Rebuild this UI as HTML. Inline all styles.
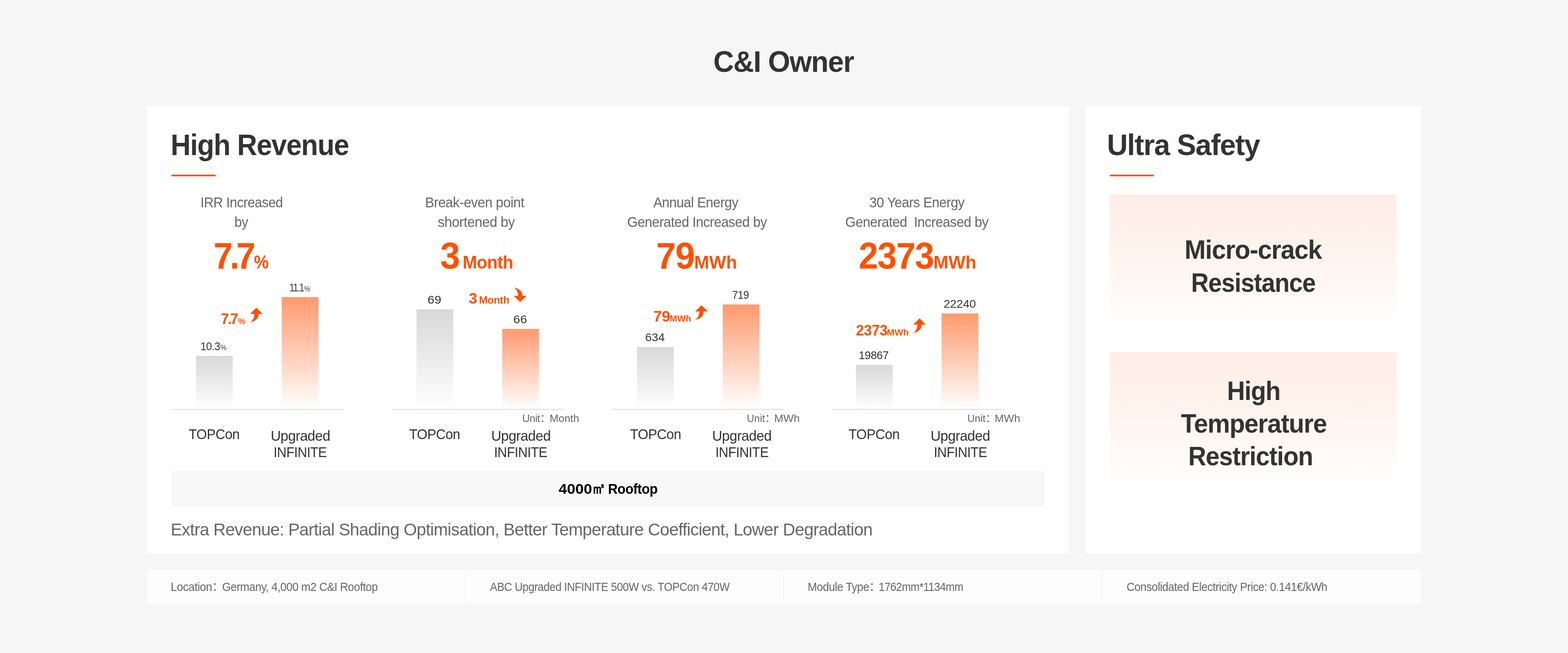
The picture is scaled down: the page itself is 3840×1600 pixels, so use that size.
<!DOCTYPE html>
<html lang="en">
<head>
<meta charset="utf-8">
<title>C&amp;I Owner</title>
<style>
html,body{margin:0;padding:0;}
body{width:3840px;height:1600px;overflow:hidden;background:#f6f6f6;font-family:"Liberation Sans","Noto Sans CJK SC",sans-serif;position:relative;}
.page{position:absolute;left:0;top:0;width:3840px;height:1600px;overflow:hidden;}
.card{position:absolute;top:260px;height:1096px;background:#fff;}
.card.left{left:360px;width:2258px;}
.card.right{left:2658px;width:822px;}
.rule{position:absolute;left:60px;top:168px;width:108px;height:4px;background:#ff5000;}
.t{position:absolute;white-space:pre;transform-origin:0 0;display:block;}
h1,h2,h3,p,div,section,footer{margin:0;padding:0;font-weight:400;}
.bar{position:absolute;width:90px;}
.bar.g{background:linear-gradient(180deg,#d8d8d8 0%,#ffffff 100%);}
.bar.o{background:linear-gradient(180deg,#ff9a6e 0%,#ffffff 100%);}
.axis{position:absolute;top:742px;width:420px;height:2px;background:#dcdcdc;}
.arw{position:absolute;overflow:visible;}
.roofbar{position:absolute;left:60px;top:894px;width:2138px;height:88px;background:#f8f8f8;}
.box{position:absolute;left:60px;width:702px;height:340px;background:linear-gradient(180deg,#ffede6 0%,#fff3ee 40%,#ffffff 100%);}
.foot{position:absolute;left:360px;top:1396px;width:3120px;height:84px;background:#fdfdfd;}
.sep{position:absolute;top:0;width:2px;height:84px;background:#f5f5f5;}
</style>
</head>
<body>
<div class="page">

<h1 style="color:#333333"><span class="t" style="left:1747.32px;top:108px;font-size:72px;line-height:86px;font-weight:700;letter-spacing:-1.44px;transform:scaleX(0.96851);">C&amp;I Owner</span></h1>
<section class="card left">
<h2 style="color:#333333"><span class="t" style="left:57.56px;top:52px;font-size:72px;line-height:86px;font-weight:700;letter-spacing:-1.44px;transform:scaleX(0.94238);">High Revenue</span></h2>
<div class="rule"></div>
<div class="col">
<p style="color:#666666"><span class="t" style="left:131.03px;top:213px;font-size:35px;line-height:45px;letter-spacing:-0.7px;transform:scaleX(0.93839);">IRR Increased</span> <span class="t" style="left:213.96px;top:261px;font-size:35px;line-height:45px;letter-spacing:-0.7px;transform:scaleX(0.93944);">by</span></p>
<p style="color:#ff5000"><span class="t" style="left:162.95px;top:314px;font-size:90px;line-height:106px;font-weight:700;letter-spacing:-8.1px;transform:scaleX(0.94499);">7.7</span><span class="t" style="left:261.91px;top:353px;font-size:46px;line-height:58px;font-weight:700;transform:scaleX(0.88821);">%</span></p>
<div class="bar g" style="left:120px;top:612px;height:130px"></div>
<div class="bar o" style="left:330px;top:468px;height:274px"></div>
<div style="color:#333333"><span class="t" style="left:131.36px;top:570px;font-size:28px;line-height:37px;letter-spacing:-0.56px;transform:scaleX(0.92031);">10.3</span><span class="t" style="left:179.83px;top:579px;font-size:18px;line-height:26px;transform:scaleX(0.93500);">%</span></div>
<div style="color:#333333"><span class="t" style="left:349.06px;top:426px;font-size:28px;line-height:37px;letter-spacing:-1.96px;transform:scaleX(0.77879);">11.1</span><span class="t" style="left:384.67px;top:435px;font-size:18px;line-height:26px;transform:scaleX(0.90750);">%</span></div>
<div style="color:#ff5000"><span class="t" style="left:181.25px;top:498px;font-size:37px;line-height:47px;font-weight:700;letter-spacing:-3.33px;transform:scaleX(0.95290);">7.7</span><span class="t" style="left:223.21px;top:512px;font-size:21px;line-height:29px;font-weight:700;transform:scaleX(0.96579);">%</span></div>
<svg class="arw" width="32" height="36" viewBox="0 0 32 36" style="left:252.3px;top:494px"><path d="M15.9 0 L31.6 15.2 L21.3 15.2 C21.3 26 14 33 0.3 35.6 C7 31 10.8 25 10.8 15.2 L0.3 15.2 Z" fill="#ff5000"/></svg>
<div class="axis" style="left:60px"></div>
<div style="color:#333333"><span class="t" style="left:101.65px;top:781px;font-size:35px;line-height:45px;letter-spacing:-0.7px;transform:scaleX(0.94832);">TOPCon</span></div>
<div style="color:#333333"><span class="t" style="left:302.92px;top:785px;font-size:35px;line-height:45px;letter-spacing:-0.7px;transform:scaleX(0.98123);">Upgraded</span> <span class="t" style="left:310.22px;top:825px;font-size:35px;line-height:45px;letter-spacing:-0.7px;transform:scaleX(0.92742);">INFINITE</span></div>
</div>
<div class="col">
<p style="color:#666666"><span class="t" style="left:681.05px;top:213px;font-size:35px;line-height:45px;letter-spacing:-0.7px;transform:scaleX(0.95706);">Break-even point</span> <span class="t" style="left:711.98px;top:261px;font-size:35px;line-height:45px;letter-spacing:-0.7px;transform:scaleX(0.97181);">shortened by</span></p>
<p style="color:#ff5000"><span class="t" style="left:717.68px;top:314px;font-size:90px;line-height:106px;font-weight:700;transform:scaleX(0.97333);">3</span> <span class="t" style="left:772.86px;top:355px;font-size:44px;line-height:55px;font-weight:700;letter-spacing:-0.88px;transform:scaleX(0.96773);">Month</span></p>
<div class="bar g" style="left:660px;top:498px;height:244px"></div>
<div class="bar o" style="left:870px;top:546px;height:196px"></div>
<div style="color:#333333"><span class="t" style="left:687.1px;top:456px;font-size:28px;line-height:37px;letter-spacing:0.06px;transform:scaleX(1.08000);">69</span></div>
<div style="color:#333333"><span class="t" style="left:897.03px;top:504px;font-size:28px;line-height:37px;letter-spacing:0.09px;transform:scaleX(1.08000);">66</span></div>
<div style="color:#ff5000"><span class="t" style="left:787.69px;top:448px;font-size:37px;line-height:47px;font-weight:700;transform:scaleX(1.01350);">3</span> <span class="t" style="left:813px;top:457px;font-size:26px;line-height:36px;font-weight:700;letter-spacing:-0.52px;transform:scaleX(0.98662);">Month</span></div>
<svg class="arw" width="32" height="36" viewBox="0 0 32 36" style="left:898px;top:444px"><g transform="translate(0 36) scale(1 -1)"><path d="M15.9 0 L31.6 15.2 L21.3 15.2 C21.3 26 14 33 0.3 35.6 C7 31 10.8 25 10.8 15.2 L0.3 15.2 Z" fill="#ff5000"/></g></svg>
<div class="axis" style="left:600px"></div>
<div style="color:#666666"><span class="t" style="left:919.03px;top:747px;font-size:26px;line-height:36px;letter-spacing:-0.52px;transform:scaleX(0.98307);">Unit：</span><span class="t" style="left:985.97px;top:747px;font-size:26px;line-height:36px;transform:scaleX(1.00259);">Month</span></div>
<div style="color:#333333"><span class="t" style="left:641.65px;top:781px;font-size:35px;line-height:45px;letter-spacing:-0.7px;transform:scaleX(0.94832);">TOPCon</span></div>
<div style="color:#333333"><span class="t" style="left:842.92px;top:785px;font-size:35px;line-height:45px;letter-spacing:-0.7px;transform:scaleX(0.98123);">Upgraded</span> <span class="t" style="left:850.22px;top:825px;font-size:35px;line-height:45px;letter-spacing:-0.7px;transform:scaleX(0.92742);">INFINITE</span></div>
</div>
<div class="col">
<p style="color:#666666"><span class="t" style="left:1239.73px;top:213px;font-size:35px;line-height:45px;letter-spacing:-0.7px;transform:scaleX(0.94198);">Annual Energy</span> <span class="t" style="left:1176.24px;top:261px;font-size:35px;line-height:45px;letter-spacing:-0.7px;transform:scaleX(0.94978);">Generated Increased by</span></p>
<p style="color:#ff5000"><span class="t" style="left:1247.29px;top:314px;font-size:90px;line-height:106px;font-weight:700;letter-spacing:-1.8px;transform:scaleX(0.96798);">79</span><span class="t" style="left:1340px;top:355px;font-size:44px;line-height:55px;font-weight:700;transform:scaleX(0.99979);">MWh</span></p>
<div class="bar g" style="left:1200px;top:590px;height:152px"></div>
<div class="bar o" style="left:1410px;top:486px;height:256px"></div>
<div style="color:#333333"><span class="t" style="left:1219.51px;top:548px;font-size:28px;line-height:37px;transform:scaleX(1.02914);">634</span></div>
<div style="color:#333333"><span class="t" style="left:1432.57px;top:444px;font-size:28px;line-height:37px;letter-spacing:-0.56px;transform:scaleX(0.91040);">719</span></div>
<div style="color:#ff5000"><span class="t" style="left:1240.17px;top:492px;font-size:37px;line-height:47px;font-weight:700;transform:scaleX(1.00941);">79</span><span class="t" style="left:1279.77px;top:505px;font-size:22px;line-height:31px;font-weight:700;transform:scaleX(1.00312);">MWh</span></div>
<svg class="arw" width="32" height="36" viewBox="0 0 32 36" style="left:1342px;top:488.3px"><path d="M15.9 0 L31.6 15.2 L21.3 15.2 C21.3 26 14 33 0.3 35.6 C7 31 10.8 25 10.8 15.2 L0.3 15.2 Z" fill="#ff5000"/></svg>
<div class="axis" style="left:1140px"></div>
<div style="color:#666666"><span class="t" style="left:1469.08px;top:747px;font-size:26px;line-height:36px;transform:scaleX(0.96156);">Unit：</span><span class="t" style="left:1535.94px;top:747px;font-size:26px;line-height:36px;transform:scaleX(1.03150);">MWh</span></div>
<div style="color:#333333"><span class="t" style="left:1182.67px;top:781px;font-size:35px;line-height:45px;letter-spacing:-0.7px;transform:scaleX(0.95001);">TOPCon</span></div>
<div style="color:#333333"><span class="t" style="left:1383.92px;top:785px;font-size:35px;line-height:45px;letter-spacing:-0.7px;transform:scaleX(0.98123);">Upgraded</span> <span class="t" style="left:1391.72px;top:825px;font-size:35px;line-height:45px;letter-spacing:-0.7px;transform:scaleX(0.92742);">INFINITE</span></div>
</div>
<div class="col">
<p style="color:#666666"><span class="t" style="left:1768.91px;top:213px;font-size:35px;line-height:45px;letter-spacing:-0.7px;transform:scaleX(0.94469);">30 Years Energy</span> <span class="t" style="left:1709.84px;top:261px;font-size:35px;line-height:45px;letter-spacing:-0.7px;transform:scaleX(0.94956);">Generated  Increased by</span></p>
<p style="color:#ff5000"><span class="t" style="left:1743.35px;top:314px;font-size:90px;line-height:106px;font-weight:700;letter-spacing:-1.8px;transform:scaleX(0.94972);">2373</span><span class="t" style="left:1926px;top:355px;font-size:44px;line-height:55px;font-weight:700;transform:scaleX(1.00245);">MWh</span></p>
<div class="bar g" style="left:1736px;top:634px;height:108px"></div>
<div class="bar o" style="left:1946px;top:508px;height:234px"></div>
<div style="color:#333333"><span class="t" style="left:1742.61px;top:592px;font-size:28px;line-height:37px;letter-spacing:-0.56px;transform:scaleX(0.97277);">19867</span></div>
<div style="color:#333333"><span class="t" style="left:1951.18px;top:466px;font-size:28px;line-height:37px;transform:scaleX(1.01443);">22240</span></div>
<div style="color:#ff5000"><span class="t" style="left:1736.07px;top:526px;font-size:37px;line-height:47px;font-weight:700;letter-spacing:-0.74px;transform:scaleX(0.97564);">2373</span><span class="t" style="left:1812.48px;top:539px;font-size:22px;line-height:31px;font-weight:700;transform:scaleX(1.02073);">MWh</span></div>
<svg class="arw" width="32" height="36" viewBox="0 0 32 36" style="left:1876px;top:520px"><path d="M15.9 0 L31.6 15.2 L21.3 15.2 C21.3 26 14 33 0.3 35.6 C7 31 10.8 25 10.8 15.2 L0.3 15.2 Z" fill="#ff5000"/></svg>
<div class="axis" style="left:1680px"></div>
<div style="color:#666666"><span class="t" style="left:2009.08px;top:747px;font-size:26px;line-height:36px;transform:scaleX(0.96156);">Unit：</span><span class="t" style="left:2075.94px;top:747px;font-size:26px;line-height:36px;transform:scaleX(1.03150);">MWh</span></div>
<div style="color:#333333"><span class="t" style="left:1717.67px;top:781px;font-size:35px;line-height:45px;letter-spacing:-0.7px;transform:scaleX(0.95001);">TOPCon</span></div>
<div style="color:#333333"><span class="t" style="left:1918.92px;top:785px;font-size:35px;line-height:45px;letter-spacing:-0.7px;transform:scaleX(0.98123);">Upgraded</span> <span class="t" style="left:1926.72px;top:825px;font-size:35px;line-height:45px;letter-spacing:-0.7px;transform:scaleX(0.92742);">INFINITE</span></div>
</div>
<div class="roofbar"></div>
<div style="color:#000000"><span class="t" style="left:1008.28px;top:915px;font-size:35px;line-height:45px;font-weight:700;transform:scaleX(1.05238);">4000</span><span class="t" style="left:1089.31px;top:913px;font-size:37px;line-height:47px;transform:scaleX(0.94080);font-family:'WenQuanYi Zen Hei','Noto Sans CJK SC',sans-serif;-webkit-text-stroke:1.6px currentColor;font-weight:400;">㎡</span> <span class="t" style="left:1128.55px;top:915px;font-size:35px;line-height:45px;font-weight:700;letter-spacing:-0.7px;transform:scaleX(0.93784);">Rooftop</span></div>
<p style="color:#666666"><span class="t" style="left:58.45px;top:1011px;font-size:42px;line-height:53px;letter-spacing:-0.84px;transform:scaleX(0.99804);">Extra Revenue: Partial Shading Optimisation, Better Temperature Coefficient, Lower Degradation</span></p>
</section>
<section class="card right">
<h2 style="color:#333333"><span class="t" style="left:53.2px;top:52px;font-size:72px;line-height:86px;font-weight:700;letter-spacing:-1.44px;transform:scaleX(0.97648);">Ultra Safety</span></h2>
<div class="rule"></div>
<div class="box" style="top:216px"></div>
<h3 style="color:#333333"><span class="t" style="left:242.65px;top:312px;font-size:65px;line-height:79px;font-weight:700;letter-spacing:-1.3px;transform:scaleX(0.95746);">Micro-crack</span> <span class="t" style="left:259.31px;top:393px;font-size:65px;line-height:79px;font-weight:700;letter-spacing:-1.3px;transform:scaleX(0.92136);">Resistance</span></h3>
<div class="box" style="top:602px"></div>
<h3 style="color:#333333"><span class="t" style="left:346.77px;top:658px;font-size:65px;line-height:79px;font-weight:700;letter-spacing:-1.3px;transform:scaleX(0.93604);">High</span> <span class="t" style="left:233.9px;top:738px;font-size:65px;line-height:79px;font-weight:700;letter-spacing:-1.3px;transform:scaleX(0.95280);">Temperature</span> <span class="t" style="left:252.38px;top:818px;font-size:65px;line-height:79px;font-weight:700;letter-spacing:-1.3px;transform:scaleX(0.93780);">Restriction</span></h3>
</section>
<footer class="foot">
<div class="sep" style="left:778px"></div>
<div class="sep" style="left:1558px"></div>
<div class="sep" style="left:2338px"></div>
<div style="color:#666666"><span class="t" style="left:58.08px;top:23px;font-size:29px;line-height:38px;letter-spacing:-0.58px;transform:scaleX(0.96538);">Location：</span><span class="t" style="left:184.14px;top:23px;font-size:29px;line-height:38px;letter-spacing:-0.58px;transform:scaleX(0.94430);">Germany, 4,000 m2 C&amp;I Rooftop</span></div>
<div style="color:#666666"><span class="t" style="left:840.02px;top:23px;font-size:29px;line-height:38px;letter-spacing:-0.58px;transform:scaleX(0.92802);">ABC Upgraded INFINITE 500W vs. TOPCon 470W</span></div>
<div style="color:#666666"><span class="t" style="left:1618.43px;top:23px;font-size:29px;line-height:38px;letter-spacing:-0.58px;transform:scaleX(0.94506);">Module Type：</span><span class="t" style="left:1792.18px;top:23px;font-size:29px;line-height:38px;letter-spacing:-0.58px;transform:scaleX(0.91075);">1762mm*1134mm</span></div>
<div style="color:#666666"><span class="t" style="left:2398.88px;top:23px;font-size:29px;line-height:38px;letter-spacing:-0.58px;transform:scaleX(0.94145);">Consolidated Electricity Price: 0.141€/kWh</span></div>
</footer>
</div>
</body>
</html>
